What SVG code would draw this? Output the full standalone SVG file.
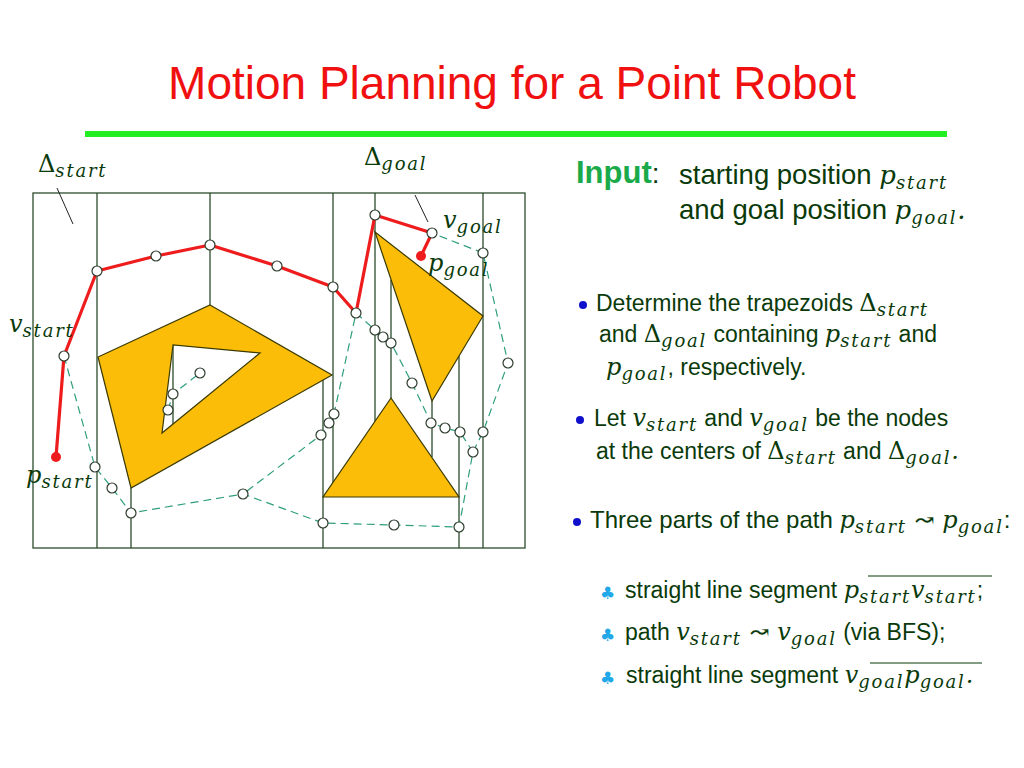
<svg xmlns="http://www.w3.org/2000/svg" width="1024" height="768" viewBox="0 0 1024 768">
<style>
.t{font-family:"Liberation Sans",Arial,sans-serif;font-size:23px;fill:#0a3a0a}
.m{font-family:"DejaVu Serif",serif;font-style:italic;font-size:24px;fill:#0a3a0a}
.u{font-style:normal}
.s{font-size:18px;letter-spacing:1.8px;baseline-shift:-5px}
.big{font-size:27.5px}
.bm{font-size:26px}
.w{stroke:#2d4d2d;stroke-width:1.3;fill:none}
.ob{fill:#fbbd07;stroke:#3a3a00;stroke-width:1.2}
.rd{stroke:#ee1c1c;stroke-width:3.2;fill:none;stroke-linejoin:round}
.ds{stroke:#2e9e7e;stroke-width:1.2;fill:none;stroke-dasharray:8 5}
.n{fill:#fff;stroke:#2d3d2d;stroke-width:1.2}
</style>
<text x="512" y="99" text-anchor="middle" font-family="Liberation Sans,Arial,sans-serif" font-size="46" fill="#f01010">Motion Planning for a Point Robot</text>
<rect x="85" y="131" width="862" height="6" fill="#22ee22"/>

<g id="walls">
<rect x="33" y="193" width="492" height="355" class="w"/>
<path class="w" d="M97 193V548M210 193V305M131 488V548M173 346V424M333 193V483M323 375V548M375 193V423M391 280V398M432 401V457M459 356V548M483 193V548"/>
</g>
<g id="obstacles">
<path class="ob" d="M210 305L332 375L131 488L98 357Z M173 345L162 433L260 353Z" fill-rule="evenodd"/>
<path class="ob" d="M375 232L483 316L432 401Z"/>
<path class="ob" d="M391 398L459 497L323 497Z"/>
</g>
<g id="connectors">
<path class="ds" d="M64 356L95 467L112 488L131 513L243 494L323 523L394 525L459 527L473 452L483 432L508 363L483 253L432 233"/>
<path class="ds" d="M473 452L460 432L445 428L431 423L412 383L391 343L383 337L375 330L356 313L334 414L329 423L321 435L243 494"/>
<path class="ds" d="M168 410L173 394L200 373"/>
<path class="rd" d="M56 457L64 356L97 271L156 256L210 245L277 266L333 287L356 313L375 215L432 233L421 256"/>
<path d="M57 188L73 224M415 195L428 222" stroke="#222" stroke-width="1"/>
</g>
<g id="nodes">
<circle cx="56" cy="457" r="5" fill="#ee1c1c"/>
<circle cx="421" cy="256" r="5" fill="#ee1c1c"/>
<g class="n">
<circle cx="64" cy="356" r="5"/><circle cx="97" cy="271" r="5"/><circle cx="156" cy="256" r="5"/><circle cx="210" cy="245" r="5"/><circle cx="277" cy="266" r="5"/><circle cx="333" cy="287" r="5"/><circle cx="356" cy="313" r="5"/><circle cx="375" cy="215" r="5"/><circle cx="432" cy="233" r="5"/>
<circle cx="95" cy="467" r="5"/><circle cx="112" cy="488" r="5"/><circle cx="131" cy="513" r="5"/><circle cx="243" cy="494" r="5"/><circle cx="323" cy="523" r="5"/><circle cx="394" cy="525" r="5"/><circle cx="459" cy="527" r="5"/><circle cx="473" cy="452" r="5"/><circle cx="483" cy="432" r="5"/><circle cx="508" cy="363" r="5"/><circle cx="483" cy="253" r="5"/>
<circle cx="460" cy="432" r="5"/><circle cx="445" cy="428" r="5"/><circle cx="431" cy="423" r="5"/><circle cx="412" cy="383" r="5"/><circle cx="391" cy="343" r="5"/><circle cx="383" cy="337" r="5"/><circle cx="375" cy="330" r="5"/>
<circle cx="334" cy="414" r="5"/><circle cx="329" cy="423" r="5"/><circle cx="321" cy="435" r="5"/>
<circle cx="168" cy="410" r="5"/><circle cx="173" cy="394" r="5"/><circle cx="200" cy="373" r="5"/>
</g>
</g>
<g id="labels">
<text x="38" y="172" class="m"><tspan class="u">Δ</tspan><tspan class="s">start</tspan></text>
<text x="364" y="165" class="m"><tspan class="u">Δ</tspan><tspan class="s">goal</tspan></text>
<text x="443" y="228" class="m">v<tspan class="s">goal</tspan></text>
<text x="428" y="271" class="m">p<tspan class="s">goal</tspan></text>
<text x="9" y="332" class="m">v<tspan class="s">start</tspan></text>
<text x="26" y="483" class="m">p<tspan class="s">start</tspan></text>
</g>
<g id="text">
<text x="576" y="183" font-family="Liberation Sans,Arial,sans-serif" font-size="31" font-weight="bold" fill="#1aaa4a">Input<tspan fill="#0a3a0a" font-weight="normal" font-size="28">:</tspan></text>
<text x="679" y="184" class="t big">starting position <tspan class="m bm">p<tspan class="s">start</tspan></tspan></text>
<text x="679" y="219" class="t big">and goal position <tspan class="m bm">p<tspan class="s">goal</tspan>.</tspan></text>
<circle cx="583" cy="305" r="4" fill="#1010cc"/>
<text x="596" y="311" class="t">Determine the trapezoids <tspan class="m"><tspan class="u">Δ</tspan><tspan class="s">start</tspan></tspan></text>
<text x="599" y="342" class="t">and <tspan class="m"><tspan class="u">Δ</tspan><tspan class="s">goal</tspan></tspan> containing <tspan class="m">p<tspan class="s">start</tspan></tspan> and</text>
<text x="606" y="375" class="t"><tspan class="m">p<tspan class="s">goal</tspan></tspan>, respectively.</text>
<circle cx="580" cy="420" r="4" fill="#1010cc"/>
<text x="594" y="426" class="t">Let <tspan class="m">v<tspan class="s">start</tspan></tspan> and <tspan class="m">v<tspan class="s">goal</tspan></tspan> be the nodes</text>
<text x="596" y="459" class="t">at the centers of <tspan class="m"><tspan class="u">Δ</tspan><tspan class="s">start</tspan></tspan> and <tspan class="m"><tspan class="u">Δ</tspan><tspan class="s">goal</tspan>.</tspan></text>
<circle cx="577" cy="522" r="4" fill="#1010cc"/>
<text x="590" y="528" class="t" style="font-size:24px">Three parts of the path <tspan class="m">p<tspan class="s">start</tspan> <tspan class="u">↝</tspan> p<tspan class="s">goal</tspan></tspan>:</text>
<text x="600" y="599" font-family="DejaVu Sans,sans-serif" font-size="17" fill="#20a8e8">♣</text>
<text x="625" y="598" class="t">straight line segment <tspan class="m">p<tspan class="s">start</tspan>v<tspan class="s">start</tspan></tspan>;</text>
<path d="M868 576H992" stroke="#0a3a0a" stroke-width="1.2"/>
<text x="600" y="641" font-family="DejaVu Sans,sans-serif" font-size="17" fill="#20a8e8">♣</text>
<text x="625" y="640" class="t">path <tspan class="m">v<tspan class="s">start</tspan> <tspan class="u">↝</tspan> v<tspan class="s">goal</tspan></tspan> (via BFS);</text>
<text x="600" y="684" font-family="DejaVu Sans,sans-serif" font-size="17" fill="#20a8e8">♣</text>
<text x="626" y="683" class="t">straight line segment <tspan class="m">v<tspan class="s">goal</tspan>p<tspan class="s">goal</tspan>.</tspan></text>
<path d="M870 663H982" stroke="#0a3a0a" stroke-width="1.2"/>
</g>
</svg>
